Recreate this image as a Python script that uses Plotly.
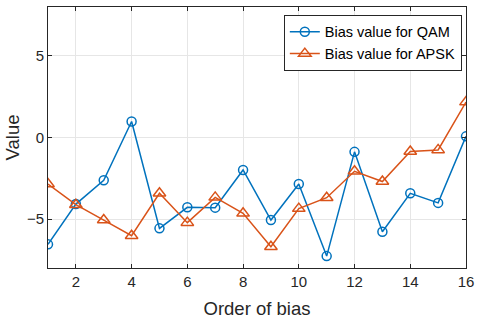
import plotly.graph_objects as go

order = list(range(1, 17))
qam = [-6.55, -4.08, -2.62, 0.98, -5.57, -4.28, -4.3, -1.99, -5.06, -2.85, -7.27, -0.88, -5.78, -3.42, -4.01, 0.07]
apsk = [-2.85, -4.12, -5.06, -6.02, -3.42, -5.22, -3.67, -4.65, -6.7, -4.36, -3.69, -2.07, -2.7, -0.86, -0.76, 2.17]

x_ticks = [2, 4, 6, 8, 10, 12, 14, 16]
y_ticks = [-5, 0, 5]

fig = go.Figure()
fig.add_trace(go.Scatter(x=order, y=qam, mode="lines+markers", name="Bias value for QAM",
                         line=dict(color="#0072BD", width=1.5),
                         marker=dict(symbol="circle-open", size=9, color="#0072BD", line=dict(width=1.5))))
fig.add_trace(go.Scatter(x=order, y=apsk, mode="lines+markers", name="Bias value for APSK",
                         line=dict(color="#D95319", width=1.5),
                         marker=dict(symbol="triangle-up-open", size=11, color="#D95319", line=dict(width=1.5))))

axis_common = dict(showline=True, linecolor="#262626", linewidth=1, mirror="ticks",
                   ticks="inside", ticklen=4, tickcolor="#262626", automargin=False,
                   showgrid=True, gridcolor="#e6e6e6", gridwidth=1, zeroline=False,
                   tickfont=dict(family="Liberation Sans, Arial, sans-serif", size=15, color="#262626"))

fig.update_layout(
    width=477, height=319,
    margin=dict(l=48, r=11, t=7, b=51),
    paper_bgcolor="white", plot_bgcolor="white",
    font=dict(family="Liberation Sans, Arial, sans-serif", color="#262626"),
    xaxis=dict(range=[1, 16], tickvals=x_ticks,
               title=dict(text="Order of bias", font=dict(size=18.5), standoff=14), **axis_common),
    yaxis=dict(range=[-8, 8], tickvals=y_ticks,
               title=dict(text="Value", font=dict(size=18.5), standoff=2), **axis_common),
    legend=dict(x=0.99, y=0.97, xanchor="right", yanchor="top",
                bgcolor="white", bordercolor="#262626", borderwidth=1,
                font=dict(size=14.5, color="#000000"), tracegroupgap=0,
                itemwidth=30),
    showlegend=True,
)

fig.write_html("out.html")
